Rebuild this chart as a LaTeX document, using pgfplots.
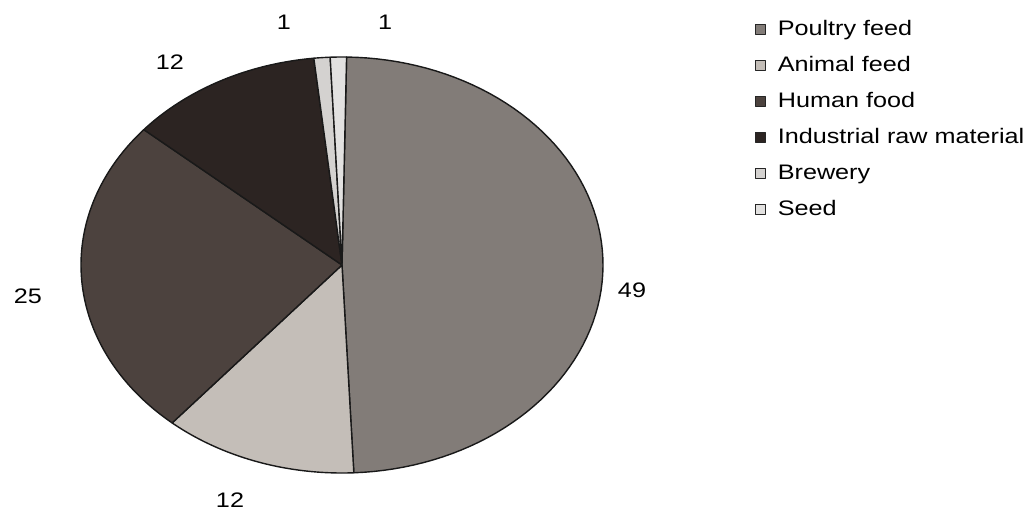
\documentclass[border=0pt]{standalone}
\usepackage{fontspec}
\setmainfont[FakeStretch=1.2]{Liberation Sans}
\usepackage{pgfplots}
\usepackage{pgfplotstable}
\pgfplotsset{compat=1.18}

\definecolor{cpoultry}{RGB}{130,124,120}
\definecolor{canimal}{RGB}{196,190,184}
\definecolor{chuman}{RGB}{76,66,62}
\definecolor{cindustrial}{RGB}{44,36,34}
\definecolor{cbrewery}{RGB}{212,210,208}
\definecolor{cseed}{RGB}{226,225,224}

% share of use, per cent
\pgfplotstableread[col sep=comma]{
label,value,color
Poultry feed,49,cpoultry
Animal feed,12,canimal
Human food,25,chuman
Industrial raw material,12,cindustrial
Brewery,1,cbrewery
Seed,1,cseed
}\pietable

% pie centre and radii, in picture pixels
\def\cx{342}
\def\cy{250}
\def\rx{261}
\def\ry{208}

\begin{document}
\begin{tikzpicture}
\begin{axis}[
  width=518pt, height=257.5pt, scale only axis,
  xmin=0, xmax=1036, ymin=0, ymax=515,
  hide axis, clip=false,
  font=\fontsize{10.5}{12}\selectfont,
  legend style={at={(axis cs:749,500)}, anchor=north west, draw=none, fill=none,
    font=\fontsize{10.5}{12}\selectfont, row sep=8pt,
    nodes={inner sep=0pt, text height=8pt, text depth=2pt}},
  legend cell align=left,
  legend image code/.code={
    \path[draw=none, fill=none] (0pt,0pt) -- (11pt,0pt);
    \draw[#1, draw=black!85, line width=0.4pt] (0pt,-2.3pt) rectangle (4.6pt,2.3pt);},
]
\addplot[draw=none, forget plot] coordinates {(0,0) (1036,515)};

\pgfplotstablegetrowsof{\pietable}
\pgfmathtruncatemacro\lastrow{\pgfplotsretval-1}
\def\startang{89}
\pgfplotsforeachungrouped \i in {0,...,\lastrow}{
  \pgfplotstablegetelem{\i}{value}\of\pietable \let\val\pgfplotsretval
  \pgfplotstablegetelem{\i}{color}\of\pietable \let\col\pgfplotsretval
  \pgfplotstablegetelem{\i}{label}\of\pietable \let\lab\pgfplotsretval
  \pgfmathsetmacro\endang{\startang-3.6*\val}
  \edef\cmd{\noexpand\addplot[fill=\col, draw=black!90, line width=0.7pt,
      line join=round, domain=\endang:\startang, samples=80]
    ({\cx+\rx*cos(x)},{\cy+\ry*sin(x)}) -- (axis cs:\cx,\cy) -- cycle;
    \noexpand\addlegendentry{\lab}}
  \cmd
  \let\startang\endang
}

% value labels
\node at (axis cs:284,493) {1};
\node at (axis cs:385,493) {1};
\node at (axis cs:170,453) {12};
\node at (axis cs:28,219) {25};
\node at (axis cs:230,15) {12};
\node at (axis cs:632,225) {49};
\end{axis}
\end{tikzpicture}
\end{document}
